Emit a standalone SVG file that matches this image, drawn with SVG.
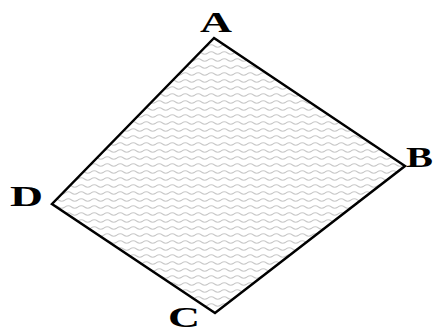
<svg xmlns="http://www.w3.org/2000/svg" width="433" height="333" viewBox="0 0 433 333">
<style>
.lbl{font-family:"Liberation Serif","Times New Roman",serif;font-weight:bold;font-size:29px;fill:#000}
.edge{fill:none;stroke:#000;stroke-width:2.5;stroke-linejoin:miter}
</style>
<defs>
<pattern id="wave" width="13" height="7" patternUnits="userSpaceOnUse">
<path d="M0,4 Q3.25,1.5 6.5,4 T13,4" fill="none" stroke="#c8c8c8" stroke-width="1.1"/>
</pattern>
</defs>
<rect width="433" height="333" fill="#fff"/>
<g id="shape">
<polygon points="214,38 405,166 215,313 52,204" fill="url(#wave)"/>
</g>
<g id="connectors">
<polygon class="edge" points="214,38 405,166 215,313 52,204"/>
</g>
<g id="A"><text class="lbl" x="200" y="32" textLength="32" lengthAdjust="spacingAndGlyphs">A</text></g>
<g id="B"><text class="lbl" x="406" y="167" textLength="27" lengthAdjust="spacingAndGlyphs">B</text></g>
<g id="C"><text class="lbl" x="168" y="327" textLength="32" lengthAdjust="spacingAndGlyphs">C</text></g>
<g id="D"><text class="lbl" x="10" y="206" textLength="33" lengthAdjust="spacingAndGlyphs">D</text></g>
</svg>
